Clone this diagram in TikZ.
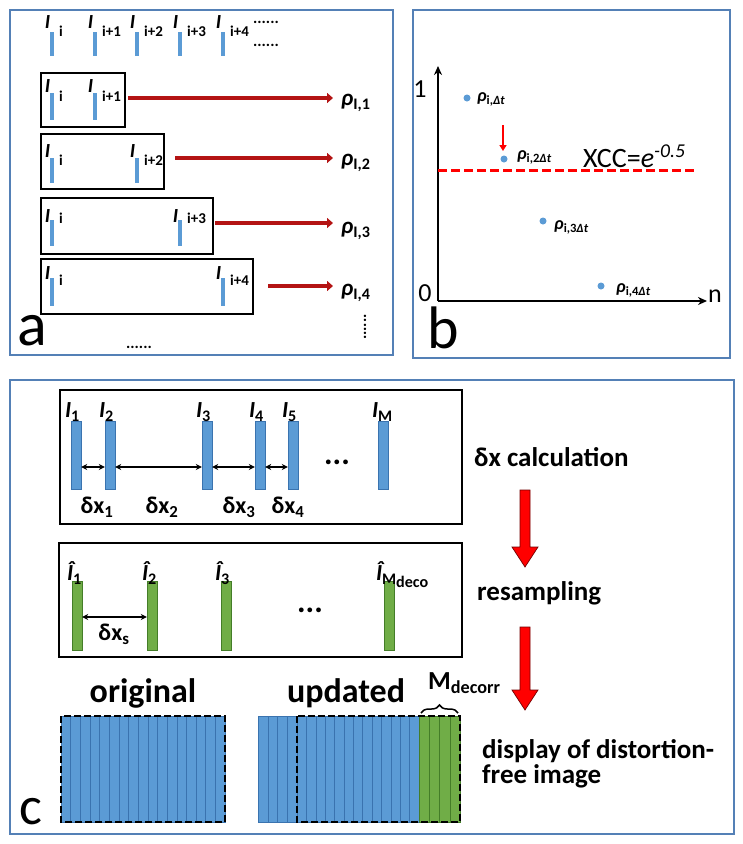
\documentclass[tikz,border=0pt]{standalone}
\usepackage{fontspec}
\setmainfont{Carlito}
\usetikzlibrary{arrows.meta,decorations.pathreplacing,calc}
\definecolor{pborder}{RGB}{84,128,182}
\definecolor{barblue}{RGB}{91,155,213}
\definecolor{stripeline}{RGB}{58,115,175}
\definecolor{bargreen}{RGB}{112,173,71}
\definecolor{greenline}{RGB}{68,125,40}
\definecolor{corrred}{RGB}{180,20,20}
\definecolor{blockred}{RGB}{255,0,0}
\begin{document}
\begin{tikzpicture}[x=1pt,y=-1pt,
  panel/.style={draw=pborder,line width=2.5pt},
  abar/.style={fill=barblue,draw=none,minimum width=4pt,inner sep=0pt,anchor=north},
  Ia/.style={font=\fontsize{20}{20}\selectfont\bfseries\itshape,inner sep=0pt},
  ilbl/.style={font=\fontsize{15}{15}\selectfont\bfseries,anchor=west,inner sep=0pt},
  pairbox/.style={draw=black,line width=1.8pt,inner sep=0pt,anchor=north west},
  corr/.style={draw=corrred,line width=4pt,-{Triangle[length=6pt,width=10pt]},shorten >=8pt},
  rhoA/.style={font=\fontsize{23}{23}\selectfont\bfseries,anchor=west,inner sep=0pt},
  rhoB/.style={font=\fontsize{18}{18}\selectfont\bfseries,anchor=west,inner sep=0pt},
  dotsA/.style={font=\fontsize{16}{16}\selectfont\bfseries,inner sep=0pt},
  bigletter/.style={font=\fontsize{58}{58}\selectfont,inner sep=0pt},
  axnum/.style={font=\fontsize{26}{26}\selectfont,inner sep=0pt},
  axis/.style={draw=black,line width=2pt,-{Stealth[length=9pt,width=8pt]}},
  pt/.style={circle,fill=barblue,draw=none,minimum size=7pt,inner sep=0pt},
  xcc/.style={draw=red,line width=3pt,dash pattern=on 9pt off 4pt},
  cbox/.style={draw=black,line width=1.6pt,inner sep=0pt,anchor=north west},
  bluebar/.style={fill=barblue,draw=stripeline,line width=0.4pt,minimum width=10pt,minimum height=68pt,inner sep=0pt},
  greenbar/.style={fill=bargreen,draw=greenline,line width=0.4pt,minimum width=10pt,minimum height=69pt,inner sep=0pt},
  Ic/.style={font=\fontsize{23}{23}\selectfont\bfseries\itshape,inner sep=0pt,anchor=base west},
  dx/.style={font=\fontsize{24}{24}\selectfont\bfseries,inner sep=0pt},
  dbl/.style={draw=black,line width=1.6pt,{Stealth[length=6pt,width=6pt]}-{Stealth[length=6pt,width=6pt]}},
  bigdots/.style={font=\fontsize{32}{32}\selectfont\bfseries,inner sep=0pt},
  steptext/.style={font=\fontsize{27}{27}\selectfont\bfseries,anchor=west,inner sep=0pt,align=left},
  blockarrow/.style={fill=blockred,draw=blockred!45!black,line width=0.7pt},
  headtext/.style={font=\fontsize{34}{34}\selectfont\bfseries,inner sep=0pt},
  bstripe/.style={fill=barblue,draw=stripeline,line width=0.5pt},
  gstripe/.style={fill=bargreen,draw=greenline,line width=0.5pt},
  dashbox/.style={draw=black,line width=2.6pt,dash pattern=on 7pt off 3pt},
  bracestyle/.style={draw=black,line width=1.5pt,decorate,decoration={brace,amplitude=8pt}}
]
\fill[white] (0,0) rectangle (743,844);
\useasboundingbox (0,0) rectangle (743,844);

% ---------------- panel a ----------------
\draw[panel] (10,10) rectangle (393,355);
\foreach \n/\x/\l in {1/52/i, 2/95/i+1, 3/137/i+2, 4/180/i+3, 5/223/i+4} {
  \node[abar,minimum height=24pt] (t\n) at (\x,32) {};
  \node[Ia] (tI\n) at ({\x-4.5},22) {I};
  \node[ilbl] (tl\n) at ({\x+7},31) {\l};
}
\node[dotsA] (tdotsA) at (266,22) {......};
\node[dotsA] (tdotsB) at (266,45) {......};

\foreach \r/\bt/\bb/\br/\xb/\yt/\yb/\yI/\yl/\lab/\ya/\xa/\yr in
 {1/72/126/124/95/93/120/86/96/i+1/98/128/103,
  2/133/188/163/137/158/183/151/160/i+2/158/175/163,
  3/197/253/212/180/220/246/216/218/i+3/223/215/231,
  4/258/313/252/223/278/306/273/280/i+4/286/268/293} {
  \node[pairbox,minimum width={\br-40},minimum height={\bb-\bt}] (box\r) at (40,\bt) {};
  \node[abar,minimum height={\yb-\yt}] (r\r a) at (52,\yt) {};
  \node[abar,minimum height={\yb-\yt}] (r\r b) at (\xb,\yt) {};
  \node[Ia] (r\r Ia) at (47.5,\yI) {I};
  \node[Ia] (r\r Ib) at ({\xb-4.5},\yI) {I};
  \node[ilbl] (r\r la) at (59,\yl) {i};
  \node[ilbl] (r\r lb) at ({\xb+7},\yl) {\lab};
  \coordinate (s\r) at (\xa,\ya);
  \node[rhoA] (rho\r) at (341,\yr) {\textit{ρ}\textsubscript{I,\r}};
  \draw[corr] (s\r) -- (rho\r.west |- s\r);
}
\node[dotsA,rotate=90] (vdots) at (365,327) {......};
\node[dotsA] (bdots) at (139,347) {......};
\node[bigletter,font=\fontsize{62}{62}\selectfont] (la) at (32,331) {a};

% ---------------- panel b ----------------
\draw[panel] (413,10) rectangle (730,358);
\coordinate (O) at (438,301);
\coordinate (Ytop) at (438,66);
\coordinate (Xend) at (707,301);
\draw[axis] (O) -- (Ytop);
\draw[axis] (O) -- (Xend);
\node[axnum] (one) at (420,89) {1};
\node[axnum] (zero) at (425,293) {0};
\node[axnum] (nlab) at (715,296) {n};
\node[bigletter,font=\fontsize{60}{60}\selectfont] (lb) at (443,328) {b};
\coordinate (xccL) at (438,170);
\coordinate (xccR) at (697,170);
\draw[xcc] (xccL) -- (xccR);
\node[pt] (p1) at (467,98) {};
\node[pt] (p2) at (504,159) {};
\node[pt] (p3) at (543,221) {};
\node[pt] (p4) at (601,286) {};
\node[rhoB] (q1) at (477,99) {\textit{ρ}\textsubscript{i,\textit{Δt}}};
\node[rhoB] (q2) at (517,157) {\textit{ρ}\textsubscript{i,2\textit{Δt}}};
\node[rhoB] (q3) at (554,227) {\textit{ρ}\textsubscript{i,3\textit{Δt}}};
\node[rhoB] (q4) at (616,290) {\textit{ρ}\textsubscript{i,4\textit{Δt}}};
\coordinate (ra) at (503,125);
\coordinate (rb) at (503,151);
\draw[draw=red,line width=1.6pt,-{Triangle[length=6pt,width=7pt]}] (ra) -- (rb);
\node[font=\fontsize{28}{28}\selectfont,anchor=base west,inner sep=0pt] (xcclab) at (583,167) {XCC=\textit{e}\textsuperscript{\textit{-0.5}}};

% ---------------- panel c ----------------
\draw[panel] (10,380) rectangle (734,834);
\node[cbox,minimum width=402pt,minimum height=134pt] (cb1) at (59,389) {};
\foreach \n/\x/\lab in {1/76/1,2/110/2,3/207/3,4/260/4,5/293/5,6/383/M} {
  \node[bluebar] (c\n) at (\x,455) {};
  \node[Ic] (cl\n) at ([xshift=-6pt,yshift=3pt]c\n.north west) {I\textsubscript{\upshape\lab}};
}
\draw[dbl] (c1.east |- 0,467) -- (c2.west |- 0,467);
\draw[dbl] (c2.east |- 0,467) -- (c3.west |- 0,467);
\draw[dbl] (c3.east |- 0,467) -- (c4.west |- 0,467);
\draw[dbl] (c4.east |- 0,467) -- (c5.west |- 0,467);
\node[dx] (dx1) at (97,507) {δx\textsubscript{1}};
\node[dx] (dx2) at (162,507) {δx\textsubscript{2}};
\node[dx] (dx3) at (239,507) {δx\textsubscript{3}};
\node[dx] (dx4) at (288,507) {δx\textsubscript{4}};
\node[bigdots] (cdots1) at (337,462) {...};

\node[cbox,minimum width=403pt,minimum height=114pt] (cb2) at (58,542) {};
\foreach \n/\x in {1/77,2/152,3/226,4/389} {
  \node[greenbar] (g\n) at (\x,615.5) {};
}
\node[Ic] (gl1) at ([xshift=-5pt]g1.north west) {Î\textsubscript{\upshape 1}};
\node[Ic] (gl2) at ([xshift=-5pt]g2.north west) {Î\textsubscript{\upshape 2}};
\node[Ic] (gl3) at ([xshift=-6pt]g3.north west) {Î\textsubscript{\upshape 3}};
\node[Ic] (gl4) at ([xshift=-8pt]g4.north west) {Î\textsubscript{\upshape M\lower3pt\hbox{deco}}};
\draw[dbl] (g1.east |- 0,617) -- (g2.west |- 0,617);
\node[dx] (dxs) at (114,634) {δx\textsubscript{s}};
\node[bigdots] (cdots2) at (310,610) {...};

% right side steps
\node[steptext] (st1) at (474,457) {δx calculation};
\node[steptext] (st2) at (477,593) {resampling};
\node[steptext] (st3) at (482,764) {display of distortion-\\[-2pt]free image};
\coordinate (a1t) at (525,490);
\coordinate (a2t) at (525,627);
\fill[blockarrow] ($(a1t)+(-5,0)$) -- ($(a1t)+(5,0)$) -- ($(a1t)+(5,57)$) -- ($(a1t)+(13,57)$) -- ($(a1t)+(0,77)$) -- ($(a1t)+(-13,57)$) -- ($(a1t)+(-5,57)$) -- cycle;
\fill[blockarrow] ($(a2t)+(-5,0)$) -- ($(a2t)+(5,0)$) -- ($(a2t)+(5,63)$) -- ($(a2t)+(13,63)$) -- ($(a2t)+(0,83)$) -- ($(a2t)+(-13,63)$) -- ($(a2t)+(-5,63)$) -- cycle;

% image blocks
\node[headtext] (orig) at (143,693) {original};
\node[headtext] (upd) at (346,693) {updated};
\node[font=\fontsize{26}{26}\selectfont\bfseries,anchor=west,inner sep=0pt] (mdec) at (428,683) {M\textsubscript{decorr}};
\foreach \i in {0,...,16} \draw[bstripe] ({61+\i*9.647},716) rectangle ++(9.647,106);
\draw[dashbox] (61,716) rectangle (225,822);
\foreach \i in {0,...,3} \draw[bstripe] ({258+\i*9.75},716) rectangle ++(9.75,106);
\foreach \i in {0,...,12} \draw[bstripe] ({297+\i*9.385},716) rectangle ++(9.385,106);
\foreach \i in {0,...,3} \draw[gstripe] ({419+\i*10.25},716) rectangle ++(10.25,106);
\draw[dashbox] (297,716) rectangle (460,822);
\coordinate (brL) at (421,713);
\coordinate (brR) at (458,713);
\draw[bracestyle] (brL) -- (brR);
\node[bigletter,font=\fontsize{54}{54}\selectfont] (lc) at (31,812) {c};
\end{tikzpicture}
\end{document}
